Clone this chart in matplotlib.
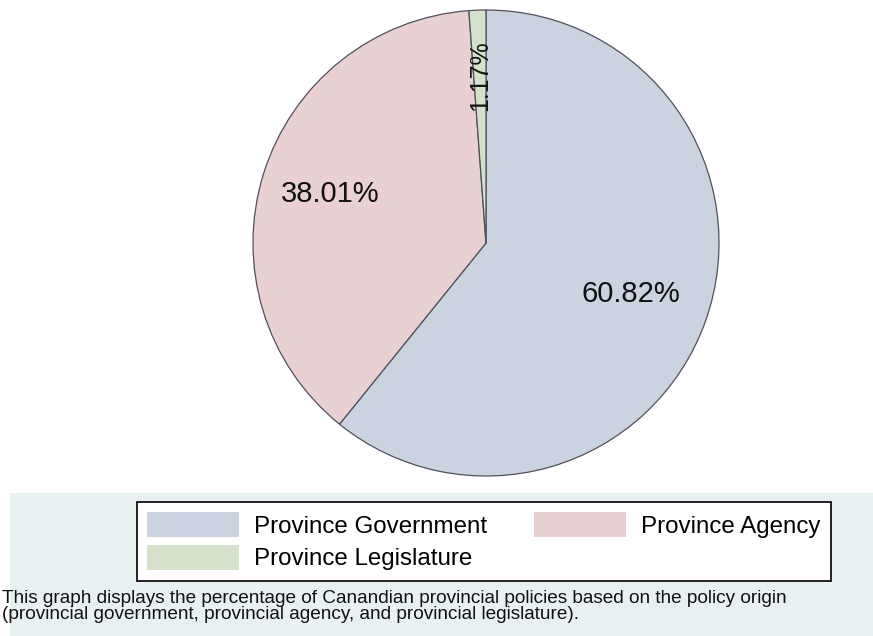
import matplotlib
matplotlib.use("Agg")
import matplotlib.pyplot as plt
from matplotlib.patches import Patch, Rectangle
import numpy as np

plt.rcParams['font.family'] = ['Liberation Sans', 'DejaVu Sans']

categories = ["Province Government", "Province Agency", "Province Legislature"]
shares = [60.82, 38.01, 1.17]
colors = ["#cad3df", "#e9d0d3", "#d6e1cb"]
caption = ("This graph displays the percentage of Canandian provincial policies based on the policy origin\n"
           "(provincial government, provincial agency, and provincial legislature).")

W, H = 873, 636
fig = plt.figure(figsize=(W / 100, H / 100), dpi=100)
fig.patch.set_facecolor("white")

# light note/legend band at the bottom
fig.patches.append(Rectangle((10 / W, 0), 1 - 10 / W, (H - 493) / H,
                             transform=fig.transFigure, facecolor="#e9f0f2",
                             edgecolor="none", zorder=0))

# pie axes (square in pixels)
cx, cy, r = 486, 243, 233
ax = fig.add_axes([(cx - r) / W, (H - cy - r) / H, 2 * r / W, 2 * r / H])
wedges, _ = ax.pie(shares, colors=colors, startangle=90, counterclock=False,
                   radius=1, wedgeprops=dict(edgecolor="#50505c", linewidth=0.9))
ax.set_xlim(-1, 1)
ax.set_ylim(-1, 1)
ax.set_aspect("equal")
ax.axis("off")

# percentage labels placed along each wedge's mid-angle
dists = [0.66, 0.70, 0.72]
sizes = [21, 21, 18]
for w, val, d, fs in zip(wedges, shares, dists, sizes):
    mid = np.deg2rad((w.theta1 + w.theta2) / 2)
    x, y = d * np.cos(mid), d * np.sin(mid)
    rot = 90 if val < 5 else 0
    ax.text(x, y, f"{val:.2f}%", ha="center", va="center", fontsize=fs,
            rotation=rot, color="#111111")

# legend: entries ordered so the two-column layout reads row-wise
handles = [Patch(facecolor=c, edgecolor="none") for c in colors]
order = [0, 2, 1]
leg = fig.legend([handles[i] for i in order], [categories[i] for i in order],
                 ncol=2, loc="upper left",
                 bbox_to_anchor=(137 / W, (H - 502) / H),
                 bbox_transform=fig.transFigure, borderaxespad=0,
                 fontsize=17.4, handlelength=3.8, handleheight=1.2,
                 handletextpad=0.62, columnspacing=1.95, labelspacing=0.3,
                 borderpad=0.42, frameon=True, fancybox=False, framealpha=1)
leg.get_frame().set_edgecolor("#111111")
leg.get_frame().set_linewidth(1.3)
leg.get_frame().set_facecolor("white")

fig.text(2 / W, (H - 590) / H, caption, ha="left", va="top", fontsize=13.65,
         color="#111111", linespacing=0.95)

fig.savefig("out.png", dpi=100)
